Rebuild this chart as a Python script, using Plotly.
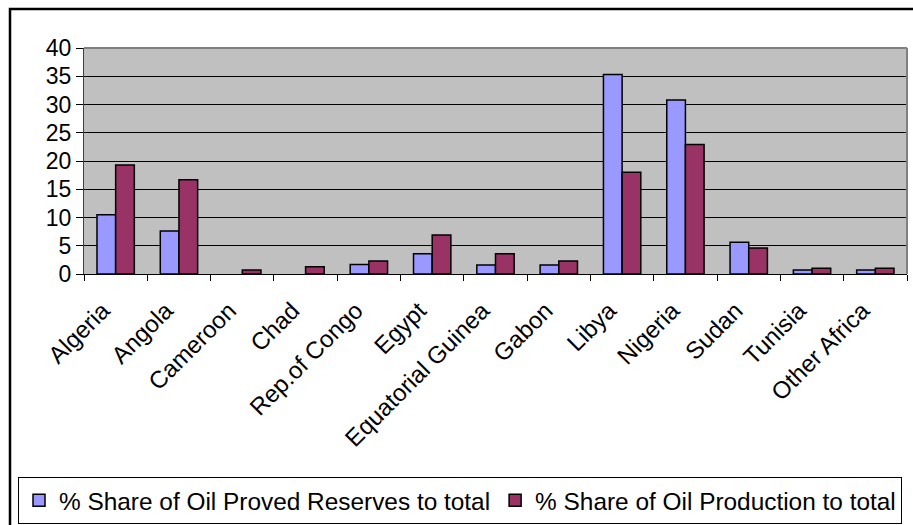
import plotly.graph_objects as go

countries = ["Algeria", "Angola", "Cameroon", "Chad", "Rep.of Congo", "Egypt",
             "Equatorial Guinea", "Gabon", "Libya", "Nigeria", "Sudan", "Tunisia",
             "Other Africa"]
reserves_share = [10.5, 7.6, 0.0, 0.0, 1.7, 3.6, 1.6, 1.6, 35.3, 30.8, 5.6, 0.7, 0.7]
production_share = [19.3, 16.7, 0.7, 1.3, 2.3, 6.9, 3.6, 2.3, 18.0, 22.9, 4.6, 1.0, 1.0]
y_ticks = [0, 5, 10, 15, 20, 25, 30, 35, 40]

W, H = 913, 525
L, R, T, B = 84, 6, 48, 251
pw, ph = W - L - R, H - T - B


def px_x(x):
    return (x - L) / pw


def px_y(y):
    return (H - B - y) / ph


FONT = "Liberation Sans, Arial, sans-serif"


def outline_widths(vals):
    return [0 if v == 0 else 1.5 for v in vals]


fig = go.Figure()
fig.add_trace(go.Bar(x=countries, y=reserves_share,
                     name="% Share of Oil Proved Reserves to total",
                     marker=dict(color="#9999FF",
                                 line=dict(color="black", width=outline_widths(reserves_share)))))
fig.add_trace(go.Bar(x=countries, y=production_share,
                     name="% Share of Oil Production to total",
                     marker=dict(color="#993366",
                                 line=dict(color="black", width=outline_widths(production_share)))))

fig.update_layout(
    width=W, height=H,
    margin=dict(l=L, r=R, t=T, b=B, autoexpand=False),
    paper_bgcolor="white", plot_bgcolor="#C0C0C0",
    barmode="group", bargap=0.41, bargroupgap=0,
    font=dict(family=FONT, size=23, color="black"),
    showlegend=True,
    legend=dict(orientation="h", x=px_x(18), y=px_y(477), xanchor="left", yanchor="top",
                bordercolor="black", borderwidth=1, bgcolor="white",
                font=dict(family=FONT, size=24.4), itemwidth=30,
                traceorder="normal"),
    xaxis=dict(tickangle=-45, tickson="boundaries", ticks="outside", ticklen=6,
               tickcolor="black", showline=True, linecolor="black", linewidth=1,
               showgrid=False, automargin=False,
               ticklabelstandoff=12, ticklabelshift=-13,
               tickfont=dict(family=FONT, size=24)),
    yaxis=dict(range=[0, 40], tickvals=y_ticks, ticks="outside", ticklen=7,
               tickcolor="black", showline=True, linecolor="#404040", linewidth=1,
               showgrid=True, gridcolor="black", gridwidth=1, zeroline=False,
               automargin=False, tickfont=dict(family=FONT, size=23)),
    shapes=[
        dict(type="line", xref="paper", yref="paper", x0=0, x1=1, y0=1, y1=1,
             line=dict(color="#808080", width=2)),
        dict(type="line", xref="paper", yref="paper", x0=1, x1=1, y0=0, y1=1,
             line=dict(color="#808080", width=2)),
        dict(type="rect", xref="paper", yref="paper",
             x0=px_x(10), x1=px_x(930), y0=px_y(540), y1=px_y(9),
             line=dict(color="black", width=2.5), fillcolor="rgba(0,0,0,0)", layer="above"),
    ],
)

fig.write_html("out.html", config={"displayModeBar": False})
